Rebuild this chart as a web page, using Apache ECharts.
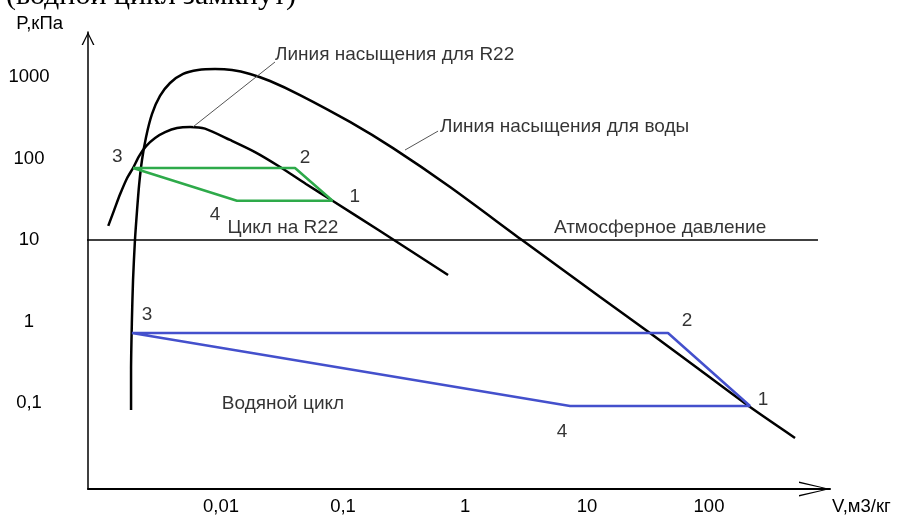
<!DOCTYPE html>
<html>
<head>
<meta charset="utf-8">
<script src="https://cdn.jsdelivr.net/npm/echarts@6/dist/echarts.min.js"></script>
<style>
html,body{margin:0;padding:0;background:#fff;}
#chart{width:899px;height:517px;}
</style>
</head>
<body>
<div id="chart"></div>
<script>
// ---- axis ticks ----
const xTickExps = [-2, -1, 0, 1, 2];
const xTickLabels = ['0,01', '0,1', '1', '10', '100'];
const yTickExps = [-1, 0, 1, 2, 3];
const yTickLabels = ['0,1', '1', '10', '100', '1000'];

// ---- saturation line for water ----
const waterV = [0.00183, 0.00183, 0.00186, 0.0019, 0.00197, 0.00205, 0.00213, 0.00225, 0.00243, 0.00272, 0.00316, 0.00382, 0.00489, 0.00648, 0.00893, 0.0123, 0.0173, 0.0252, 0.0444, 0.114, 0.257, 0.754, 2.93, 12.8, 32.8, 84.4, 217, 507];
const waterP = [0.082, 0.254, 1.04, 3.23, 10, 23.3, 47.3, 95.9, 184, 352, 585, 844, 1089, 1218, 1253, 1218, 1089, 893, 601, 281, 134, 44.7, 10, 2.00, 0.723, 0.254, 0.0893, 0.0373];

// ---- saturation line for R22 ----
const r22V = [0.00119, 0.00133, 0.00149, 0.00170, 0.0019, 0.00213, 0.00243, 0.00288, 0.00348, 0.00436, 0.00557, 0.00739, 0.01185, 0.019, 0.0305, 0.0497, 0.082, 0.201, 0.726];
const r22P = [14.9, 23.3, 36.6, 57.7, 76.4, 107, 142, 179, 211, 237, 244, 233, 169, 120, 78.7, 48.6, 30.3, 12.9, 3.72];

// ---- R22 cycle 3-2-1-4-3 ----
const r22CycleV = [0.0019, 0.0404, 0.082, 0.0135, 0.0019];
const r22CycleP = [76.4, 76.4, 30.3, 30.3, 76.4];

// ---- water cycle 3-2-1-4-3 ----
const waterCycleV = [0.00186, 46.1, 217, 7.26, 0.00186];
const waterCycleP = [0.723, 0.723, 0.0918, 0.0918, 0.723];

// ---- atmospheric pressure ----
const atmV = [0.000612, 782];
const atmP = [10, 10];

// ---- point labels ----
const r22PtText = ['3', '2', '1', '4'];
const r22PtV = [0.00141, 0.0488, 0.125, 0.00893];
const r22PtP = [104, 101, 33.7, 20.3];
const waterPtText = ['3', '2', '1', '4'];
const waterPtV = [0.00247, 66.0, 277, 6.24];
const waterPtP = [1.20, 1.01, 0.109, 0.0441];

// ---- annotations ----
const noteText = ['Цикл на R22', 'Атмосферное давление', 'Водяной цикл'];
const noteV = [0.0322, 39.7, 0.0322];
const noteP = [14.0, 14.0, 0.0973];
const leaderText = ['Линия насыщения для R22', 'Линия насыщения для воды'];
const leaderTextV = [0.0277, 0.624];
const leaderTextP = [1862, 244];
const r22LeaderV = [0.00589, 0.0277];
const r22LeaderP = [244, 1528];
const waterLeaderV = [0.322, 0.601];
const waterLeaderP = [127, 217];

// ---- axis extents ----
const xMin = 0.000812, xMax = 981;
const yMin = 0.00881, yMax = 3566;

const FONT = 'Liberation Sans, Arial, sans-serif';
const zip = (a, b) => a.map((v, i) => [v, b[i]]);
const pts = (t, v, p) => t.map((s, i) => ({ name: s, value: [v[i], p[i]] }));

function expLabel(val, exps, labels) {
  const e = Math.round(Math.log10(val));
  if (Math.abs(Math.log10(val) - e) > 1e-6) return '';
  const i = exps.indexOf(e);
  return i >= 0 ? labels[i] : '';
}

const chart = echarts.init(document.getElementById('chart'), null, { renderer: 'canvas' });

const lineBase = (data, color, width, extra) => Object.assign({
  type: 'line', data: data, showSymbol: false, symbol: 'none',
  lineStyle: { color: color, width: width }, silent: true, animation: false, z: 3
}, extra || {});

const labelSeries = (data, pos) => ({
  type: 'scatter', data: data, symbolSize: 0, silent: true, animation: false, z: 5, clip: false,
  label: {
    show: true, position: pos, distance: 0, formatter: '{b}',
    color: '#000', fontFamily: FONT, fontSize: 19
  }
});

chart.setOption({
  animation: false,
  backgroundColor: '#fff',
  grid: { left: 88, right: 69, top: 32, bottom: 28, containLabel: false },
  xAxis: {
    type: 'log', min: xMin, max: xMax, logBase: 10,
    name: 'V,м3/кг', nameLocation: 'end', nameGap: 2, nameMoveOverlap: false,
    nameTextStyle: { color: '#000', fontFamily: FONT, fontSize: 18.5, align: 'left', verticalAlign: 'top', padding: [8, 0, 0, 0] },
    axisLine: {
      show: true, onZero: false,
      lineStyle: { color: '#000', width: 2 },
      symbol: ['none', 'path://M7.5,0 L15,31 L13.4,31 L7.5,3.5 L1.6,31 L0,31 Z'],
      symbolSize: [15, 31], symbolOffset: [0, -15.5]
    },
    axisTick: { show: false },
    splitLine: { show: false },
    minorTick: { show: false },
    axisLabel: {
      show: true, margin: 8, color: '#000', fontFamily: FONT, fontSize: 18.5,
      showMinLabel: true, showMaxLabel: true, hideOverlap: false,
      formatter: v => expLabel(v, xTickExps, xTickLabels)
    }
  },
  yAxis: {
    type: 'log', min: yMin, max: yMax, logBase: 10,
    name: 'P,кПа', nameLocation: 'end', nameGap: 8, nameMoveOverlap: false,
    nameTextStyle: { color: '#000', fontFamily: FONT, fontSize: 18.5, align: 'right', verticalAlign: 'middle', padding: [0, 25, 0, 0] },
    axisLine: {
      show: true, onZero: false,
      lineStyle: { color: '#000', width: 1.5 },
      symbol: ['none', 'path://M6.5,0 L13,13 L11.5,13 L6.5,2.5 L1.5,13 L0,13 Z'],
      symbolSize: [13, 13], symbolOffset: [0, -6.5]
    },
    axisTick: { show: false },
    splitLine: { show: false },
    minorTick: { show: false },
    axisLabel: {
      show: true, margin: 59, align: 'center', color: '#000', fontFamily: FONT, fontSize: 18.5,
      showMinLabel: true, showMaxLabel: true, hideOverlap: false,
      formatter: v => expLabel(v, yTickExps, yTickLabels)
    }
  },
  graphic: [{
    type: 'text', x: 296, y: 11, silent: true,
    style: { text: '(водной цикл замкнут)', fill: '#000', font: '30px "Liberation Serif", serif', align: 'right', verticalAlign: 'bottom' }
  }],
  series: [
    lineBase(zip(atmV, atmP), '#000', 1.5, { clip: false, z: 2 }),
    lineBase(zip(waterV, waterP), '#000', 2.5, { smooth: 0.25 }),
    lineBase(zip(r22V, r22P), '#000', 2.5, { smooth: 0.25 }),
    lineBase(zip(r22LeaderV, r22LeaderP), '#555', 1),
    lineBase(zip(waterLeaderV, waterLeaderP), '#555', 1),
    lineBase(zip(r22CycleV, r22CycleP), '#2eaa4a', 2.5, { z: 4 }),
    lineBase(zip(waterCycleV, waterCycleP), '#4450cc', 2.5, { z: 4 }),
    labelSeries(pts(r22PtText, r22PtV, r22PtP), 'inside'),
    labelSeries(pts(waterPtText, waterPtV, waterPtP), 'inside'),
    labelSeries(pts(noteText, noteV, noteP), 'inside'),
    labelSeries(pts(leaderText, leaderTextV, leaderTextP), 'right')
  ]
});
</script>
</body>
</html>
